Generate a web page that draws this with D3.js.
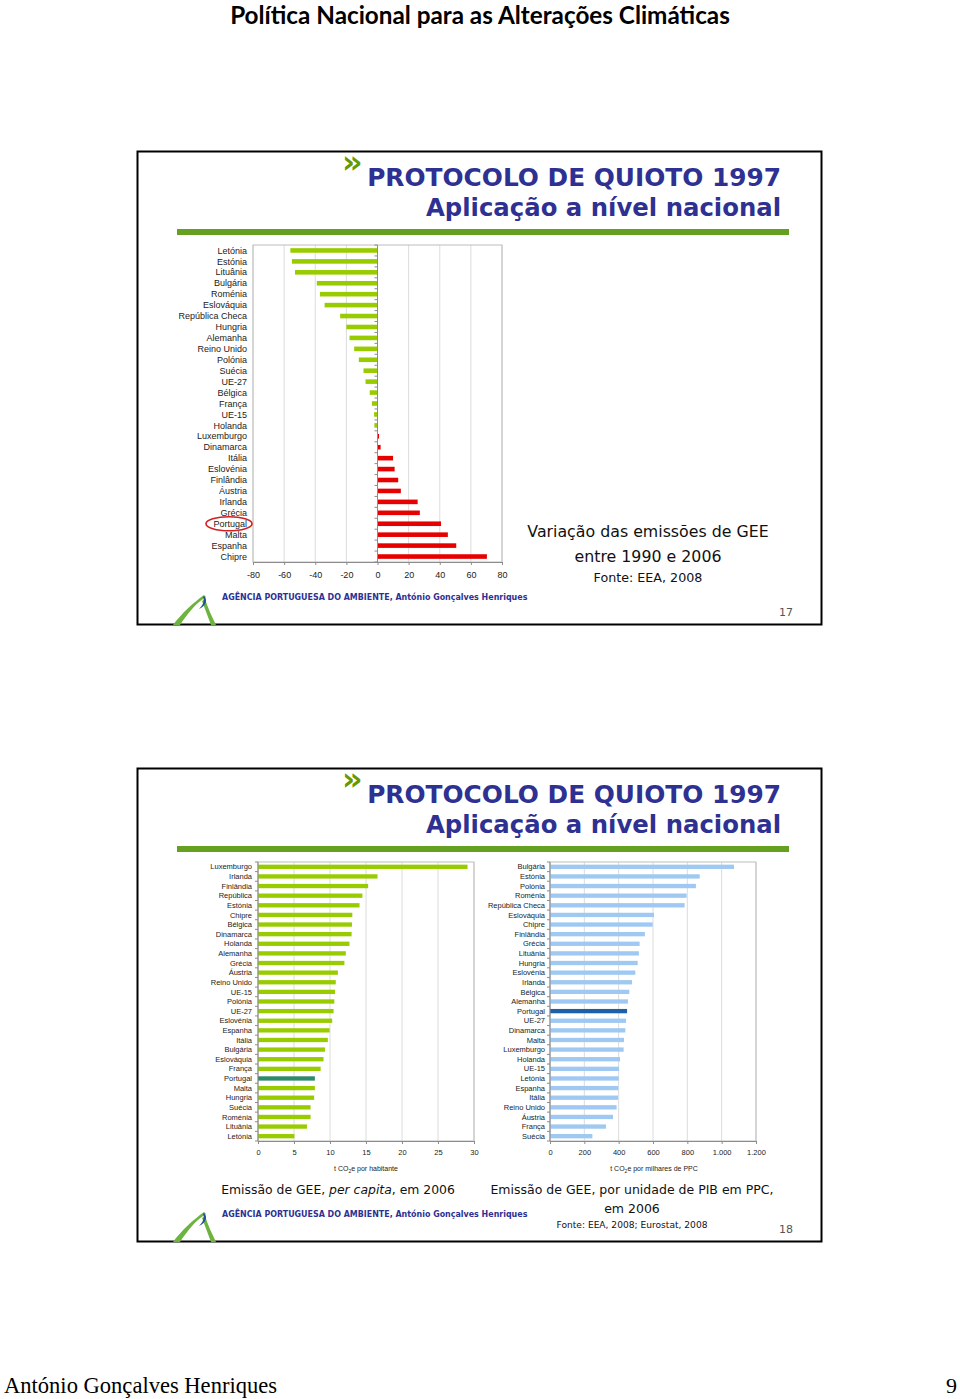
<!DOCTYPE html>
<html><head><meta charset="utf-8">
<script src="https://cdn.jsdelivr.net/npm/d3@7"></script>
<style>body{margin:0;background:#fff}svg{display:block}</style>
</head><body>
<svg id="c" width="960" height="1399"></svg>
<script>
// ---------- DATA ----------
const varCategories = ["Letónia","Estónia","Lituânia","Bulgária","Roménia","Eslováquia","República Checa","Hungria","Alemanha","Reino Unido","Polónia","Suécia","UE-27","Bélgica","França","UE-15","Holanda","Luxemburgo","Dinamarca","Itália","Eslovénia","Finlândia","Áustria","Irlanda","Grécia","Portugal","Malta","Espanha","Chipre"];
const varValues = [-56,-55,-53,-39,-37,-34,-24,-20,-18,-15,-12,-9,-7.7,-5,-3.6,-2.2,-2,1,2,10,11,13.3,15,25.8,27.2,40.8,45.2,50.6,70.3];
const varTicks = [-80,-60,-40,-20,0,20,40,60,80];

const capCategories = ["Luxemburgo","Irlanda","Finlândia","República","Estónia","Chipre","Bélgica","Dinamarca","Holanda","Alemanha","Grécia","Áustria","Reino Unido","UE-15","Polónia","UE-27","Eslovénia","Espanha","Itália","Bulgária","Eslováquia","França","Portugal","Malta","Hungria","Suécia","Roménia","Lituânia","Letónia"];
const capValues = [29.1,16.6,15.3,14.5,14.1,13.1,13.05,13.0,12.7,12.2,12.0,11.1,10.8,10.7,10.6,10.5,10.3,9.95,9.7,9.3,9.1,8.7,7.9,7.9,7.8,7.3,7.3,6.8,5.05];
const capTicks = [0,5,10,15,20,25,30];

const pibCategories = ["Bulgária","Estónia","Polónia","Roménia","República Checa","Eslováquia","Chipre","Finlândia","Grécia","Lituânia","Hungria","Eslovénia","Irlanda","Bélgica","Alemanha","Portugal","UE-27","Dinamarca","Malta","Luxemburgo","Holanda","UE-15","Letónia","Espanha","Itália","Reino Unido","Áustria","França","Suécia"];
const pibValues = [1072,872,850,796,784,606,598,553,522,518,511,497,478,462,454,449,443,439,431,429,408,402,400,398,396,388,367,326,247];
const pibTicks = [0,200,400,600,800,1000,1200];
const pibTickLabels = ["0","200","400","600","800","1.000","1.200"];

// ---------- DRAW ----------
const svg = d3.select("#c");
svg.append("rect").attr("width",960).attr("height",1399).attr("fill","#fff");

const NAVY = "#2e3192", GREEN_BAR = "#66a021";
function fit(sel, width){
  const n = sel.node(); let fs = parseFloat(sel.attr("font-size"));
  for(let i=0;i<3;i++){ const w = n.getComputedTextLength(); if(w>0){ fs = fs*width/w; sel.attr("font-size", fs);} }
  return sel;
}

// page header / footer
fit(svg.append("text").attr("x",480).attr("y",24).attr("text-anchor","middle")
  .attr("font-family","Lato, 'Open Sans', sans-serif").attr("font-weight","bold").attr("font-size",22)
  .attr("fill","#000").text("Política Nacional para as Alterações Climáticas"), 500);
fit(svg.append("text").attr("x",4).attr("y",1393)
  .attr("font-family","'Liberation Serif', serif").attr("font-size",22).attr("fill","#000")
  .text("António Gonçalves Henriques"), 273);
svg.append("text").attr("x",957).attr("y",1393).attr("text-anchor","end")
  .attr("font-family","'Liberation Serif', serif").attr("font-size",22).attr("fill","#000").text("9");

function slide(y0, num){
  const g = svg.append("g");
  g.append("rect").attr("x",137.5).attr("y",y0+0.5).attr("width",684).attr("height",473)
    .attr("fill","#fff").attr("stroke","#000").attr("stroke-width",2);
  g.append("text").attr("x",342).attr("y",y0+22).attr("font-family","'DejaVu Sans', sans-serif")
    .attr("font-weight","bold").attr("font-size",32).attr("fill","#669900").text("»");
  fit(g.append("text").attr("x",781).attr("y",y0+35).attr("text-anchor","end")
    .attr("font-family","'DejaVu Sans', sans-serif").attr("font-weight","bold").attr("font-size",25)
    .attr("fill",NAVY).text("PROTOCOLO DE QUIOTO 1997"), 414);
  fit(g.append("text").attr("x",781).attr("y",y0+65).attr("text-anchor","end")
    .attr("font-family","'DejaVu Sans', sans-serif").attr("font-weight","bold").attr("font-size",25)
    .attr("fill",NAVY).text("Aplicação a nível nacional"), 355);
  g.append("rect").attr("x",177).attr("y",y0+78).attr("width",612).attr("height",6).attr("fill",GREEN_BAR);
  // footer
  fit(g.append("text").attr("x",222).attr("y",y0+449)
    .attr("font-family","'DejaVu Sans Condensed','DejaVu Sans', sans-serif").attr("font-weight","bold").attr("font-size",9)
    .attr("fill",NAVY).text("AGÊNCIA PORTUGUESA DO AMBIENTE, António Gonçalves Henriques"), 306);
  g.append("text").attr("x",793).attr("y",y0+465).attr("text-anchor","end")
    .attr("font-family","'DejaVu Sans', sans-serif").attr("font-size",11).attr("fill","#555").text(num);
  // logo
  const b = y0+474;
  g.append("path").attr("d",`M173,${b} L180,${b} C188,${b-12} 196,${b-22} 206,${b-28} L204,${b-30} C193,${b-22} 182,${b-12} 173,${b} Z`).attr("fill","#6db33f");
  g.append("path").attr("d",`M202,${b-24} L205,${b-26} C208,${b-17} 212,${b-8} 216,${b} L211,${b} C208,${b-8} 205,${b-16} 202,${b-24} Z`).attr("fill","#6db33f");
  g.append("path").attr("d",`M204,${b-29} C208,${b-25} 206,${b-19} 199,${b-16} C203,${b-20} 205,${b-24} 203,${b-28} Z`).attr("fill","#1f4e9c");
}
slide(151,"17");
slide(768,"18");

// ---------- generic horizontal bar chart ----------
function barChart(o){
  const g = svg.append("g");
  const x = d3.scaleLinear().domain(o.domain).range(o.xr);
  const y = d3.scaleBand().domain(o.cats).range(o.yr).paddingInner(o.pad).paddingOuter(o.pad/2);
  g.selectAll("line.grid").data(o.ticks).join("line")
    .attr("x1",d=>x(d)).attr("x2",d=>x(d)).attr("y1",o.yr[0]).attr("y2",o.yr[1])
    .attr("stroke","#dcdcdc").attr("stroke-width",1);
  g.append("rect").attr("x",o.xr[0]).attr("y",o.yr[0]).attr("width",o.xr[1]-o.xr[0]).attr("height",o.yr[1]-o.yr[0])
    .attr("fill","none").attr("stroke","#bdbdbd");
  g.selectAll("rect.bar").data(o.cats).join("rect")
    .attr("x",(d,i)=>x(Math.min(0,o.vals[i]))).attr("width",(d,i)=>Math.abs(x(o.vals[i])-x(0)))
    .attr("y",d=>y(d)).attr("height",y.bandwidth())
    .attr("fill",(d,i)=>o.color(d,o.vals[i]));
  const ax = x(0);
  g.append("line").attr("x1",ax).attr("x2",ax).attr("y1",o.yr[0]).attr("y2",o.yr[1]).attr("stroke","#8c8c8c");
  const step = y.step();
  g.selectAll("line.ct").data(d3.range(o.cats.length+1)).join("line")
    .attr("x1",ax-3).attr("x2",ax).attr("y1",i=>o.yr[0]+i*step).attr("y2",i=>o.yr[0]+i*step).attr("stroke","#8c8c8c");
  g.selectAll("text.lab").data(o.cats).join("text")
    .attr("x",o.labelX).attr("y",d=>y(d)+y.bandwidth()/2).attr("dy","0.35em").attr("text-anchor","end")
    .attr("font-family","'Liberation Sans', Arial, sans-serif").attr("font-size",o.fs).attr("fill","#222").text(d=>d);
  const xa = g.append("g").attr("transform",`translate(0,${o.yr[1]})`)
    .call(d3.axisBottom(x).tickValues(o.ticks).tickSize(3).tickFormat((d,i)=>o.tickLabels? o.tickLabels[i] : d));
  xa.select(".domain").attr("stroke","#8c8c8c");
  xa.selectAll(".tick line").attr("stroke","#8c8c8c");
  xa.selectAll("text").attr("font-family","'Liberation Sans', Arial, sans-serif").attr("font-size",o.fs).attr("fill","#222").attr("dy",o.tdy);
  return {x,y};
}

const topChart = barChart({cats:varCategories, vals:varValues, domain:[-80,80], xr:[253,502], yr:[245,562],
  pad:0.58, ticks:varTicks, labelX:247, fs:9, tdy:"1.15em",
  color:(d,v)=> v<0 ? "#99cc00" : "#e60000"});
svg.append("ellipse").attr("cx",229).attr("cy",topChart.y("Portugal")+topChart.y.bandwidth()/2).attr("rx",23).attr("ry",7)
  .attr("fill","none").attr("stroke","#d42020").attr("stroke-width",1.6);

svg.append("text").attr("x",648).attr("y",537).attr("text-anchor","middle").attr("font-family","'DejaVu Sans', sans-serif")
  .attr("font-size",15.8).attr("fill","#111").text("Variação das emissões de GEE");
svg.append("text").attr("x",648).attr("y",562).attr("text-anchor","middle").attr("font-family","'DejaVu Sans', sans-serif")
  .attr("font-size",15.8).attr("fill","#111").text("entre 1990 e 2006");
svg.append("text").attr("x",648).attr("y",582).attr("text-anchor","middle").attr("font-family","'DejaVu Sans', sans-serif")
  .attr("font-size",12.7).attr("fill","#111").text("Fonte: EEA, 2008");

barChart({cats:capCategories, vals:capValues, domain:[0,30], xr:[258,474], yr:[862,1141],
  pad:0.55, ticks:capTicks, labelX:252, fs:7.5, tdy:"1.1em",
  color:(d)=> d==="Portugal" ? "#2e8b6a" : "#99cc00"});
barChart({cats:pibCategories, vals:pibValues, domain:[0,1200], xr:[550,756], yr:[862,1141],
  pad:0.55, ticks:pibTicks, tickLabels:pibTickLabels, labelX:545, fs:7.5, tdy:"1.1em",
  color:(d)=> d==="Portugal" ? "#1f5ea8" : "#9fc9f2"});

function axisTitle(xc, pre, post){
  const t = svg.append("text").attr("x",xc).attr("y",1171).attr("text-anchor","middle")
    .attr("font-family","'Liberation Sans', Arial, sans-serif").attr("font-size",7).attr("fill","#222");
  t.append("tspan").text(pre);
  t.append("tspan").attr("font-size",5).attr("dy",1.5).text("2");
  t.append("tspan").attr("dy",-1.5).text(post);
}
axisTitle(366,"t CO","e por habitante");
axisTitle(654,"t CO","e por milhares de PPC");

const c1 = svg.append("text").attr("x",338).attr("y",1194).attr("text-anchor","middle")
  .attr("font-family","'DejaVu Sans', sans-serif").attr("font-size",12.4).attr("fill","#111");
c1.append("tspan").text("Emissão de GEE, ");
c1.append("tspan").attr("font-style","italic").text("per capita");
c1.append("tspan").text(", em 2006");
svg.append("text").attr("x",632).attr("y",1194).attr("text-anchor","middle").attr("font-family","'DejaVu Sans', sans-serif")
  .attr("font-size",12.5).attr("fill","#111").text("Emissão de GEE, por unidade de PIB em PPC,");
svg.append("text").attr("x",632).attr("y",1213).attr("text-anchor","middle").attr("font-family","'DejaVu Sans', sans-serif")
  .attr("font-size",12.5).attr("fill","#111").text("em 2006");
svg.append("text").attr("x",632).attr("y",1228).attr("text-anchor","middle").attr("font-family","'DejaVu Sans', sans-serif")
  .attr("font-size",9.1).attr("fill","#111").text("Fonte: EEA, 2008; Eurostat, 2008");
</script>
</body></html>
